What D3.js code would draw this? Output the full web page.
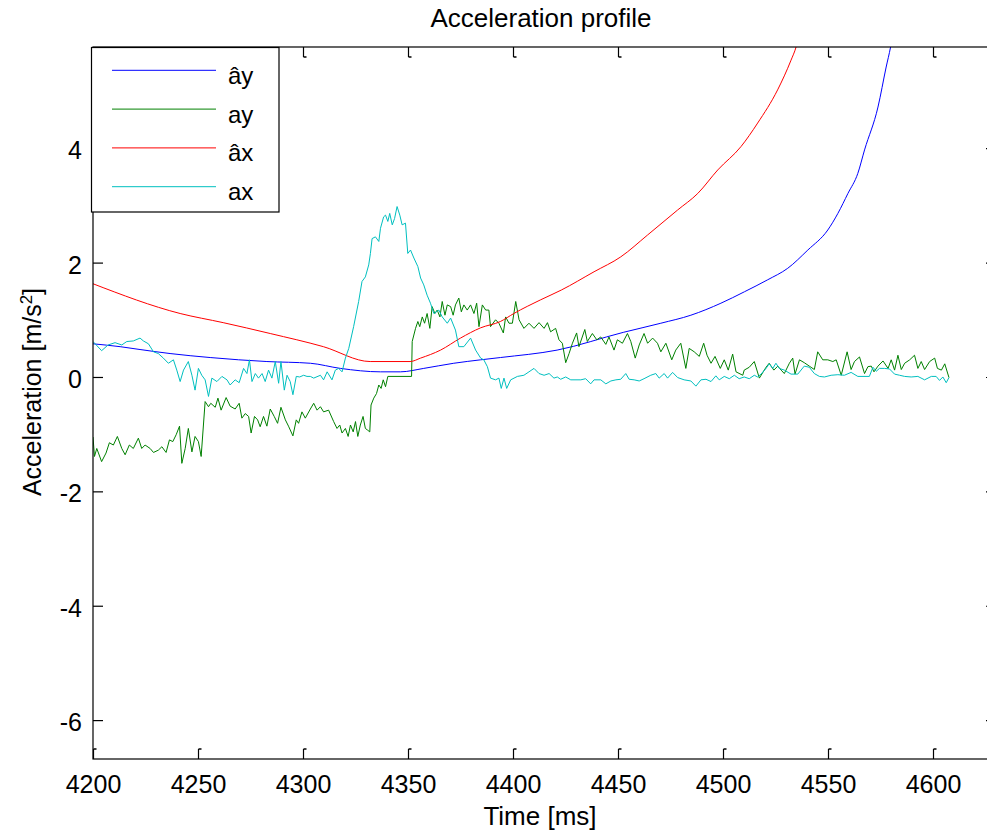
<!DOCTYPE html>
<html>
<head>
<meta charset="utf-8">
<script src="https://cdn.jsdelivr.net/npm/d3@7"></script>
<style>
  body { margin: 0; background: #fff; }
  svg { display: block; font-family: "Liberation Sans", Arial, sans-serif; }
</style>
</head>
<body>
<div id="chart"></div>
<script>
// Eixos
const xTicks = [4200, 4250, 4300, 4350, 4400, 4450, 4500, 4550, 4600];
const yTicks = [-6, -4, -2, 0, 2, 4];
const xDomain = [4200, 4630];
const yDomain = [-6.68, 5.77];

const chartTitle = 'Acceleration profile';
const xLabel = 'Time [ms]';
const legendNames = ['ây', 'ay', 'âx', 'ax'];
const lineColors = ['#0000ff', '#008000', '#ff0000', '#00bfbf'];

// ây (estimado)
const ayHat = [
  [4200, 0.58], [4212.9, 0.53], [4222.4, 0.48], [4236.7, 0.41], [4255.8, 0.34],
  [4282.8, 0.27], [4303.5, 0.24], [4317.8, 0.15], [4336.9, 0.09], [4346.4, 0.09],
  [4357.5, 0.15], [4371.8, 0.24], [4384.6, 0.30], [4394, 0.34], [4421, 0.47],
  [4452.5, 0.78], [4470.4, 0.94], [4484.7, 1.08], [4499, 1.29], [4510.2, 1.49],
  [4521.3, 1.70], [4530.8, 1.90], [4540.4, 2.22], [4549.9, 2.57], [4554.7, 2.86],
  [4559.5, 3.21], [4564.2, 3.56], [4567.4, 3.97], [4573.8, 4.72], [4577.7, 5.42],
  [4579.8, 5.77], [4583, 6.5]
];

// ay (medido)
const ay = [
  [4200, -1.05], [4200.7, -1.39], [4201.8, -1.25], [4204.1, -1.48], [4206.2, -1.33],
  [4207.8, -1.15], [4209.7, -1.19], [4211.6, -1.04], [4213.7, -1.25], [4215.3, -1.36],
  [4217.3, -1.19], [4219.2, -1.25], [4221.6, -1.07], [4223.2, -1.25], [4224.8, -1.19],
  [4227.2, -1.25], [4228.8, -1.32], [4231.1, -1.28], [4232.8, -1.22], [4234.8, -1.32],
  [4236.4, -1.10], [4238.0, -1.13], [4239.6, -1.01], [4241.2, -0.86], [4242.3, -1.51],
  [4243.9, -1.25], [4245.4, -0.90], [4247.1, -1.31], [4248.6, -1.04], [4250.2, -1.13],
  [4251.5, -1.39], [4253.4, -0.43], [4255.0, -0.52], [4256.1, -0.46], [4258.2, -0.53],
  [4259.5, -0.37], [4261.0, -0.58], [4263.4, -0.36], [4265.3, -0.51], [4267.7, -0.56],
  [4269.6, -0.46], [4270.9, -0.72], [4272.5, -0.64], [4274.1, -0.69], [4275.3, -0.98],
  [4276.9, -0.69], [4278.4, -0.75], [4279.6, -0.87], [4281.2, -0.69], [4282.8, -0.86],
  [4284.4, -0.56], [4286.3, -0.69], [4287.9, -0.81], [4289.5, -0.53], [4291.6, -0.75],
  [4293.1, -0.86], [4295.2, -1.03], [4296.8, -0.75], [4297.9, -0.81], [4299.5, -0.61],
  [4301.1, -0.72], [4303.5, -0.56], [4305.1, -0.46], [4306.7, -0.58], [4308.3, -0.52],
  [4309.8, -0.61], [4312.2, -0.58], [4314.6, -0.78], [4316.2, -0.90], [4317.5, -0.84],
  [4318.6, -0.98], [4320.2, -0.90], [4321.5, -1.04], [4322.6, -0.84], [4323.9, -0.96],
  [4325.0, -0.78], [4326.1, -1.04], [4327.3, -0.84], [4328.6, -0.69], [4329.7, -0.90],
  [4330.8, -0.93], [4331.8, -0.96], [4332.4, -0.49], [4333.7, -0.37], [4335.0, -0.29],
  [4336.1, -0.14], [4337.2, -0.20], [4338.2, -0.05], [4339.3, -0.17], [4340.4, 0.01],
  [4351.7, 0.01], [4352.0, 0.62], [4353.6, 0.85], [4354.7, 0.97], [4355.6, 0.88],
  [4356.8, 1.05], [4357.9, 0.94], [4359.1, 1.11], [4360.4, 0.85], [4361.5, 1.23],
  [4362.8, 1.11], [4363.9, 1.17], [4365.2, 1.05], [4366.3, 1.32], [4367.6, 1.08],
  [4368.7, 1.26], [4370.3, 1.23], [4371.5, 1.08], [4372.6, 1.26], [4374.2, 1.38],
  [4375.4, 1.14], [4376.6, 1.26], [4378.2, 1.17], [4379.8, 1.26], [4381.4, 1.11],
  [4382.7, 1.29], [4383.8, 0.88], [4385.4, 1.26], [4387.0, 1.17], [4388.5, 1.17],
  [4389.3, 0.88], [4391.7, 1.00], [4393.3, 0.94], [4395.4, 0.77], [4396.5, 1.05],
  [4398.1, 0.94], [4399.7, 0.94], [4401.3, 1.32], [4402.9, 1.00], [4405.2, 0.85],
  [4407.6, 0.94], [4410.0, 0.85], [4412.4, 0.95], [4414.8, 0.85], [4416.4, 0.95],
  [4417.9, 0.79], [4420.3, 0.85], [4421.9, 0.65], [4423.5, 0.59], [4425.1, 0.25],
  [4426.7, 0.41], [4428.3, 0.59], [4430.3, 0.77], [4431.4, 0.53], [4434.2, 0.83],
  [4435.4, 0.62], [4437.8, 0.76], [4439.9, 0.65], [4441.8, 0.70], [4444.2, 0.57],
  [4445.7, 0.70], [4448.1, 0.47], [4449.7, 0.65], [4452.1, 0.59], [4454.5, 0.76],
  [4456.1, 0.62], [4458.2, 0.33], [4460.1, 0.56], [4462.4, 0.76], [4464.1, 0.59],
  [4466.5, 0.68], [4468.8, 0.59], [4470.4, 0.44], [4472.8, 0.59], [4475.6, 0.30],
  [4477.5, 0.47], [4479.9, 0.59], [4482.3, 0.15], [4483.9, 0.50], [4486.3, 0.44],
  [4488.7, 0.36], [4490.8, 0.59], [4492.4, 0.38], [4494.3, 0.24], [4496.2, 0.36],
  [4498.7, 0.15], [4500.6, 0.30], [4502.5, 0.12], [4504.6, 0.40], [4506.2, 0.09],
  [4509.4, 0.03], [4510.1, 0.12], [4512.5, 0.17], [4514.9, 0.27], [4517.3, -0.02],
  [4520.5, 0.17], [4522.0, 0.24], [4524.2, 0.12], [4526.1, 0.19], [4527.7, 0.12],
  [4529.2, 0.06], [4531.6, 0.24], [4533.2, 0.33], [4534.3, 0.05], [4536.4, 0.30],
  [4538.7, 0.25], [4541.1, 0.19], [4543.5, 0.13], [4545.1, 0.44], [4547.5, 0.30],
  [4549.9, 0.30], [4552.3, 0.27], [4553.9, 0.30], [4556.3, 0.03], [4559.1, 0.44],
  [4561.0, 0.13], [4562.6, 0.27], [4565.0, 0.35], [4567.4, 0.06], [4569.0, 0.18],
  [4570.6, 0.19], [4571.9, 0.09], [4573.8, 0.19], [4576.2, 0.28], [4578.6, 0.15],
  [4580.1, 0.30], [4581.7, 0.12], [4583.3, 0.38], [4584.9, 0.13], [4586.5, 0.24],
  [4588.9, 0.30], [4591.2, 0.38], [4592.8, 0.15], [4594.4, 0.27], [4596.0, 0.13],
  [4598.4, 0.27], [4600.8, 0.33], [4602.1, 0.15], [4604.0, 0.12], [4605.6, 0.23],
  [4607.6, -0.01]
];

// âx (estimado)
const axHat = [
  [4200, 1.63], [4241.5, 1.11], [4262, 0.95], [4284.4, 0.76], [4309.7, 0.53],
  [4332, 0.27], [4351, 0.27], [4356, 0.33], [4365.5, 0.47], [4375, 0.68],
  [4384.6, 0.86], [4394, 0.97], [4400.4, 1.11], [4413.2, 1.35], [4423, 1.52],
  [4438.6, 1.84], [4451.3, 2.10], [4464, 2.48], [4478.4, 2.92], [4488, 3.21],
  [4497.5, 3.62], [4508.6, 4.03], [4516.5, 4.44], [4526, 5.02], [4532.4, 5.54],
  [4534.8, 5.77], [4538, 6.3]
];

// ax (medido)
const ax = [
  [4200, 0.62], [4204.1, 0.46], [4207.2, 0.56], [4210.5, 0.60], [4213.7, 0.56],
  [4216.1, 0.62], [4219.2, 0.63], [4222.4, 0.68], [4224.0, 0.63], [4226.4, 0.58],
  [4228.8, 0.44], [4231.1, 0.41], [4233.5, 0.33], [4235.9, 0.24], [4238.3, 0.30],
  [4239.9, 0.12], [4241.5, -0.08], [4243.1, 0.12], [4245.4, 0.27], [4247.1, 0.03],
  [4248.6, -0.23], [4250.2, 0.15], [4251.8, 0.03], [4253.4, -0.05], [4255.0, -0.34],
  [4256.6, -0.02], [4259.0, -0.08], [4261.4, 0.01], [4263.8, -0.05], [4265.3, -0.14],
  [4267.7, -0.05], [4269.6, -0.10], [4271.7, 0.15], [4273.3, 0.06], [4274.5, 0.30],
  [4275.7, -0.08], [4277.3, 0.06], [4278.8, -0.02], [4280.5, 0.06], [4282.0, -0.08],
  [4283.6, 0.12], [4285.2, -0.02], [4286.8, 0.27], [4288.4, -0.11], [4289.5, 0.27],
  [4291.1, -0.23], [4292.4, 0.03], [4293.9, -0.08], [4295.2, -0.31], [4296.8, 0.01],
  [4298.4, 0.00], [4300.3, 0.03], [4301.9, 0.01], [4303.5, 0.01], [4305.1, -0.02],
  [4308.3, 0.03], [4309.8, -0.05], [4311.5, 0.09], [4313.8, -0.05], [4315.4, 0.12],
  [4317.0, 0.15], [4318.6, 0.09], [4320.2, 0.33], [4321.8, 0.50], [4324.1, 0.88],
  [4326.5, 1.32], [4328.1, 1.67], [4329.7, 1.75], [4331.3, 1.96], [4332.1, 2.16],
  [4332.9, 2.42], [4334.5, 2.45], [4336.1, 2.37], [4336.9, 2.60], [4338.4, 2.80],
  [4339.3, 2.83], [4340.4, 2.72], [4341.3, 2.86], [4342.5, 2.66], [4343.6, 2.77],
  [4344.8, 2.98], [4346.1, 2.83], [4347.2, 2.66], [4348.8, 2.69], [4349.9, 2.16],
  [4351.2, 2.22], [4352.8, 2.08], [4354.7, 1.93], [4356.0, 1.73], [4357.5, 1.61],
  [4359.1, 1.43], [4360.7, 1.29], [4362.3, 1.11], [4364.7, 1.17], [4366.3, 1.05],
  [4368.7, 0.94], [4370.3, 1.03], [4372.6, 0.82], [4374.2, 0.53], [4376.6, 0.53],
  [4379.8, 0.68], [4382.2, 0.47], [4384.6, 0.33], [4386.1, 0.30], [4387.8, 0.18],
  [4389.3, -0.02], [4391.7, -0.05], [4393.3, -0.02], [4394.4, -0.20], [4395.7, -0.02],
  [4397.0, -0.20], [4398.9, -0.05], [4402.1, 0.01], [4405.2, 0.03], [4407.6, 0.09],
  [4410.0, 0.15], [4412.4, 0.06], [4414.8, 0.03], [4417.2, 0.06], [4419.5, -0.02],
  [4421.1, 0.00], [4422.7, -0.04], [4425.1, 0.00], [4427.5, -0.05], [4432.3, -0.05],
  [4434.6, -0.03], [4437.0, -0.12], [4438.6, -0.05], [4441.8, -0.05], [4444.2, -0.12],
  [4446.6, -0.07], [4449.0, -0.05], [4451.3, -0.04], [4453.7, 0.06], [4455.3, -0.04],
  [4457.7, -0.05], [4460.1, -0.07], [4462.4, -0.03], [4465.6, 0.03], [4468.0, 0.06],
  [4469.6, -0.02], [4472.0, 0.06], [4473.6, -0.02], [4476.0, 0.08], [4478.4, -0.01],
  [4481.5, -0.05], [4484.7, -0.07], [4487.1, -0.16], [4489.5, -0.05], [4491.9, -0.04],
  [4494.3, -0.08], [4496.6, 0.02], [4498.2, -0.05], [4500.6, 0.01], [4503.0, -0.03],
  [4505.4, 0.03], [4507.7, -0.03], [4510.1, 0.00], [4512.5, -0.03], [4514.9, 0.03],
  [4516.5, 0.00], [4518.1, 0.05], [4520.5, 0.15], [4522.0, 0.23], [4523.7, 0.15],
  [4525.2, 0.24], [4526.8, 0.15], [4529.2, 0.12], [4532.4, 0.05], [4535.6, 0.05],
  [4538.7, 0.19], [4541.1, 0.17], [4543.5, 0.06], [4545.9, 0.01], [4548.3, 0.00],
  [4551.5, 0.03], [4554.7, 0.04], [4557.8, 0.03], [4561.0, 0.08], [4564.2, 0.01],
  [4569.7, 0.01], [4571.4, 0.17], [4573.0, 0.10], [4574.5, 0.15], [4576.9, 0.15],
  [4579.3, 0.14], [4581.7, 0.05], [4584.1, 0.03], [4586.5, 0.01], [4589.6, 0.00],
  [4592.8, 0.01], [4596.0, -0.05], [4599.2, 0.01], [4601.5, 0.01], [4603.1, -0.06],
  [4604.7, 0.00], [4606.3, -0.10], [4607.6, -0.01]
];

const seriesData = [ayHat, ay, axHat, ax];
const smoothSeries = [true, false, true, false];

// Configurações
const W = 987, H = 834;
const margin = { top: 47, left: 93 };
const plotW = 903, plotH = 712;
const fontFamily = '"Liberation Sans", Arial, sans-serif';

const svg = d3.select('#chart').append('svg')
  .attr('width', W)
  .attr('height', H);

const g = svg.append('g')
  .attr('transform', `translate(${margin.left},${margin.top})`);

// Escalas
const x = d3.scaleLinear().domain(xDomain).range([0, plotW]);
const y = d3.scaleLinear().domain(yDomain).range([plotH, 0]);

g.append('clipPath').attr('id', 'clip')
  .append('rect').attr('width', plotW).attr('height', plotH);

// Linhas
const lines = g.append('g').attr('clip-path', 'url(#clip)');
seriesData.forEach((data, i) => {
  const line = d3.line()
    .x(d => x(d[0]))
    .y(d => y(d[1]))
    .curve(smoothSeries[i] ? d3.curveMonotoneX : d3.curveLinear);
  lines.append('path')
    .datum(data)
    .attr('fill', 'none')
    .attr('stroke', lineColors[i])
    .attr('stroke-width', 1)
    .attr('d', line);
});

// Eixos (ticks para dentro, estilo MATLAB)
const tickLen = 10;
const plainFormat = d => String(d);   // hífen simples, como no original

function styleAxis(sel) {
  sel.select('.domain').remove();
  sel.selectAll('line').attr('stroke', '#000').attr('stroke-width', 1.2);
  sel.selectAll('text')
    .attr('fill', '#000')
    .style('font-size', '25px')
    .style('font-family', fontFamily);
}

const xBottom = g.append('g')
  .attr('transform', `translate(0,${plotH})`)
  .call(d3.axisBottom(x).tickValues(xTicks).tickSize(-tickLen).tickPadding(16).tickFormat(plainFormat))
  .call(styleAxis);
xBottom.selectAll('.tick').append('line')
  .attr('x1', 0).attr('x2', 3).attr('y1', -tickLen).attr('y2', -tickLen)
  .attr('stroke', '#000').attr('stroke-width', 1.5);

const xTop = g.append('g')
  .call(d3.axisTop(x).tickValues(xTicks).tickSize(-tickLen).tickFormat(''))
  .call(styleAxis);
xTop.selectAll('.tick').append('line')
  .attr('x1', 0).attr('x2', 3).attr('y1', tickLen).attr('y2', tickLen)
  .attr('stroke', '#000').attr('stroke-width', 1.5);

const yLeft = g.append('g')
  .call(d3.axisLeft(y).tickValues(yTicks).tickSize(-tickLen).tickPadding(11).tickFormat(plainFormat))
  .call(styleAxis);
yLeft.selectAll('text').attr('dy', '0.42em');

g.append('g')
  .attr('transform', `translate(${plotW},0)`)
  .call(d3.axisRight(y).tickValues(yTicks).tickSize(-tickLen).tickFormat(''))
  .call(styleAxis);

// Caixa
g.append('rect')
  .attr('x', 0).attr('y', 0)
  .attr('width', plotW).attr('height', plotH)
  .attr('fill', 'none')
  .attr('stroke', '#000')
  .attr('stroke-width', 1.2);

// Legenda
const legend = g.append('g');
legend.append('rect')
  .attr('x', -1.5).attr('y', 0.5)
  .attr('width', 187.5).attr('height', 164.5)
  .attr('fill', '#fff')
  .attr('stroke', '#000')
  .attr('stroke-width', 1.2);
legendNames.forEach((name, i) => {
  const ly = 23.3 + i * 38.8;
  legend.append('line')
    .attr('x1', 19).attr('x2', 123)
    .attr('y1', ly).attr('y2', ly)
    .attr('stroke', lineColors[i])
    .attr('stroke-width', 1);
  legend.append('text')
    .attr('x', 135).attr('y', ly + 13.5)
    .style('font-size', '24px')
    .text(name);
});

// Títulos
svg.append('text')
  .attr('x', 541).attr('y', 27)
  .attr('text-anchor', 'middle')
  .style('font-size', '26px')
  .text(chartTitle);

svg.append('text')
  .attr('x', 540).attr('y', 825)
  .attr('text-anchor', 'middle')
  .style('font-size', '26px')
  .text(xLabel);

const yLab = svg.append('text')
  .attr('transform', 'translate(41,392) rotate(-90)')
  .attr('text-anchor', 'middle')
  .style('font-size', '25px');
yLab.append('tspan').text('Acceleration [m/s');
yLab.append('tspan').attr('dy', -9).style('font-size', '17px').text('2');
yLab.append('tspan').attr('dy', 9).text(']');
</script>
</body>
</html>
